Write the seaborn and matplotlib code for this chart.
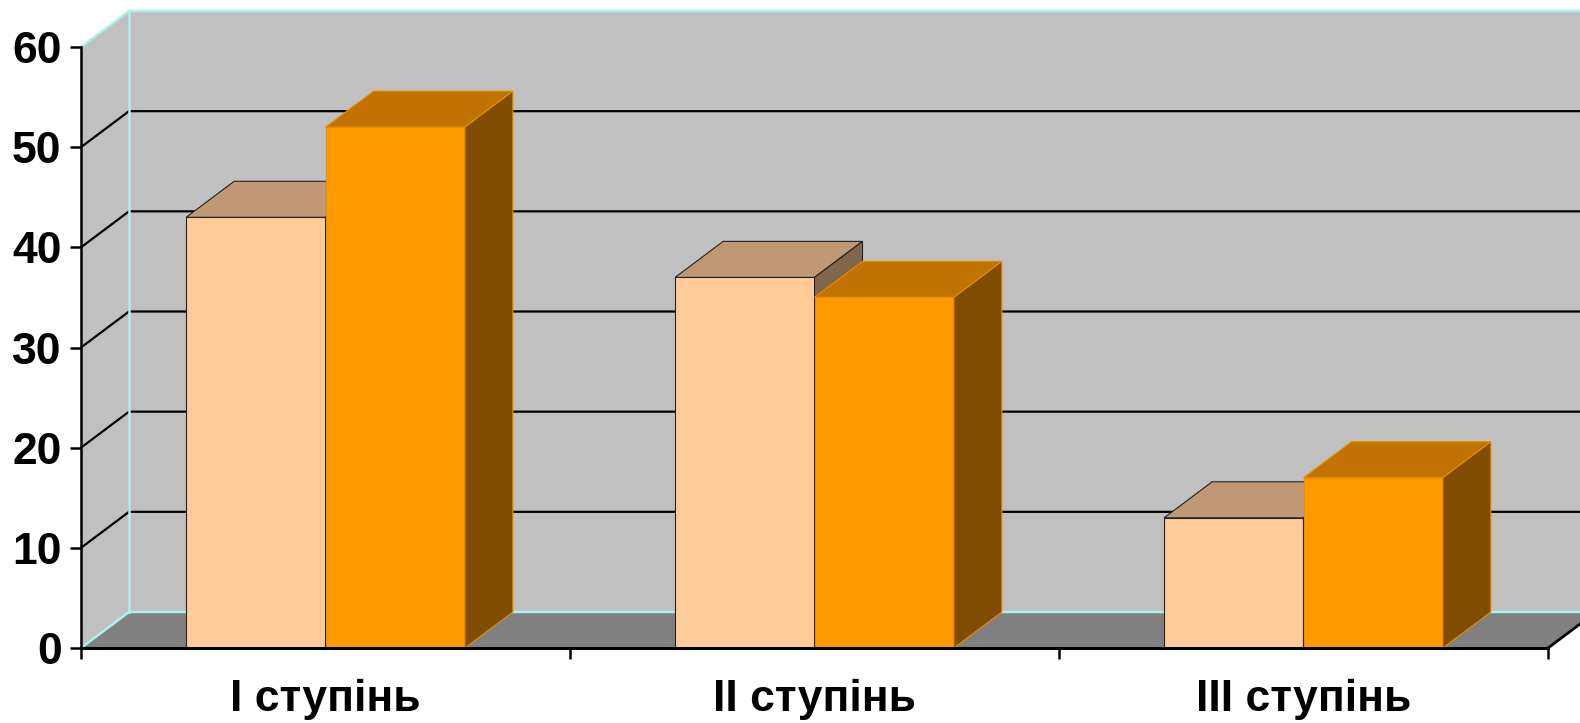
import numpy as np
import pandas as pd
import seaborn as sns
import matplotlib.pyplot as plt
from matplotlib.patches import Polygon

categories = ['I ступінь', 'II ступінь', 'III ступінь']
series = ['Ряд 1', 'Ряд 2']
values_1 = [43, 37, 13]
values_2 = [52, 35, 17]
y_ticks = [0, 10, 20, 30, 40, 50, 60]

front_colors = ['#FFCC99', '#FF9900']
top_colors = ['#C09874', '#C07300']
side_colors = ['#80664D', '#804C00']
edge_colors = ['#222222', '#E88E00']
wall = '#C0C0C0'
floor = '#808080'
cyan = '#AEEFEF'

df = pd.DataFrame({
    'category': categories * 2,
    'series': [series[0]] * 3 + [series[1]] * 3,
    'value': values_1 + values_2,
})

plt.rcParams['font.family'] = ['Liberation Sans', 'DejaVu Sans']
plt.rcParams['font.weight'] = 'bold'

fig = plt.figure(figsize=(15.8, 7.23), dpi=100)
ax = fig.add_axes([81 / 1580, 75 / 723, 1467 / 1580, 601 / 723])

sns.barplot(data=df, x='category', y='value', hue='series', order=categories,
            hue_order=series, palette=dict(zip(series, front_colors)),
            width=0.57, saturation=1, legend=False, ax=ax)

ax.set_xlim(-0.5, 2.5)
ax.set_ylim(0, 60)

# глибина 3D у пікселях -> одиниці даних
bb = ax.get_window_extent()
dx = 48 * 3 / bb.width
dy = 36 * 60 / bb.height
x_right = 2.75

# бічна стінка, задня стінка, підлога
ax.add_patch(Polygon([(-0.5, 0), (-0.5, 60), (-0.5 + dx, 60 + dy), (-0.5 + dx, dy)],
                     facecolor=wall, edgecolor='none', zorder=0, clip_on=False))
ax.add_patch(Polygon([(-0.5 + dx, dy), (-0.5 + dx, 60 + dy), (x_right, 60 + dy), (x_right, dy)],
                     facecolor=wall, edgecolor='none', zorder=0, clip_on=False))
ax.add_patch(Polygon([(-0.5, 0), (2.5, 0), (2.5 + dx, dy), (-0.5 + dx, dy)],
                     facecolor=floor, edgecolor='none', zorder=0.5, clip_on=False))

for t in y_ticks[1:-1]:
    ax.plot([-0.5, -0.5 + dx, x_right], [t, t + dy, t + dy], color='black', lw=1.6,
            zorder=0.6, clip_on=False, solid_capstyle='butt')

# блакитні ребра стінок
ax.plot([-0.5, -0.5 + dx, x_right], [60, 60 + dy, 60 + dy], color=cyan, lw=1.8, zorder=0.7, clip_on=False)
ax.plot([-0.5, -0.5 + dx, x_right], [0, dy, dy], color=cyan, lw=1.8, zorder=0.7, clip_on=False)
ax.plot([-0.5 + dx, -0.5 + dx], [dy, 60 + dy], color=cyan, lw=1.8, zorder=0.7, clip_on=False)
ax.plot([2.5, 2.5 + dx], [0, dy], color='black', lw=2, zorder=0.8, clip_on=False)

# 3D-грані стовпчиків
for i, cont in enumerate(ax.containers):
    for p in cont:
        x0, w, h = p.get_x(), p.get_width(), p.get_height()
        z = 2 + i
        p.set_zorder(z)
        p.set_edgecolor(edge_colors[i])
        p.set_linewidth(0.8)
        p.set_clip_on(False)
        top = Polygon([(x0, h), (x0 + w, h), (x0 + w + dx, h + dy), (x0 + dx, h + dy)],
                      facecolor=top_colors[i], edgecolor=edge_colors[i], lw=0.8, zorder=z, clip_on=False)
        side = Polygon([(x0 + w, 0), (x0 + w + dx, dy), (x0 + w + dx, h + dy), (x0 + w, h)],
                       facecolor=side_colors[i], edgecolor=edge_colors[i], lw=0.8, zorder=z, clip_on=False)
        ax.add_patch(top)
        ax.add_patch(side)

for s in ['top', 'right']:
    ax.spines[s].set_visible(False)
ax.spines['left'].set_linewidth(1.8)
ax.spines['bottom'].set_linewidth(2.2)
ax.spines['left'].set_zorder(5)
ax.spines['bottom'].set_zorder(5)

ax.set_yticks(y_ticks)
ax.set_yticklabels([str(t) for t in y_ticks])
ax.tick_params(axis='y', length=8, width=1.8, pad=6, labelsize=32)
ax.set_xticks(range(len(categories)))
ax.set_xticklabels(categories)
ax.set_xticks([-0.5, 0.5, 1.5, 2.5], minor=True)
ax.tick_params(axis='x', which='major', length=0, pad=22, labelsize=32)
ax.tick_params(axis='x', which='minor', length=8, width=1.8)
for lab in ax.get_xticklabels() + ax.get_yticklabels():
    lab.set_fontweight('bold')
ax.set_xlabel('')
ax.set_ylabel('')
ax.set_facecolor('none')

fig.savefig('out.png', dpi=100)
